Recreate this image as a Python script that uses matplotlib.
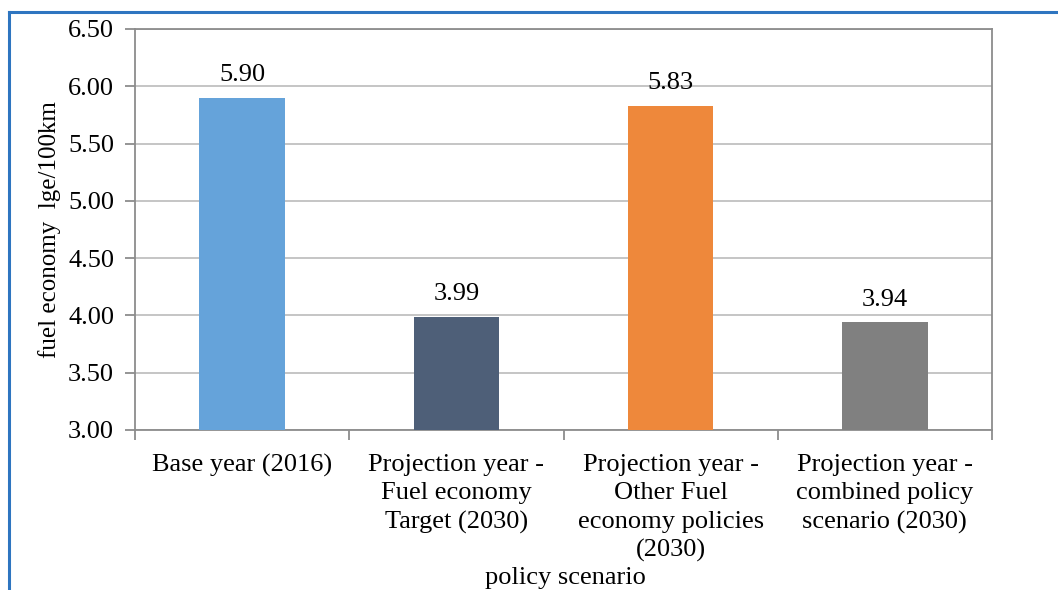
import matplotlib.pyplot as plt
from matplotlib.lines import Line2D

# policy scenarios and the average fuel economy for each
categories = [
    "Base year (2016)",
    "Projection year -\nFuel economy\nTarget (2030)",
    "Projection year -\nOther Fuel\neconomy policies\n(2030)",
    "Projection year -\ncombined policy\nscenario (2030)",
]
fuel_economy = [5.90, 3.99, 5.83, 3.94]
bar_colors = ["#65A3DA", "#4E5F78", "#EE883B", "#808080"]
y_ticks = [3.00, 3.50, 4.00, 4.50, 5.00, 5.50, 6.00, 6.50]

plt.rcParams["font.family"] = ["Liberation Serif", "DejaVu Serif"]

fig = plt.figure(figsize=(10.58, 5.90), dpi=100)
W, H = 1058, 590
ax = fig.add_axes([135 / W, 1 - 430 / H, (992 - 135) / W, (430 - 29) / H])

x = range(len(categories))
ax.bar(x, fuel_economy, width=0.4, color=bar_colors, zorder=3)
ax.set_ylim(3.0, 6.5)
ax.set_xlim(-0.5, len(categories) - 0.5)

for xi, v in zip(x, fuel_economy):
    ax.annotate(f"{v:.2f}", (xi, v), xytext=(0, 12), textcoords="offset points",
                ha="center", va="baseline", fontsize=19, color="black")

ax.set_yticks(y_ticks)
ax.set_yticklabels([f"{t:.2f}" for t in y_ticks], fontsize=19)
ax.yaxis.grid(True, color="#C0C0C0", linewidth=1.3, zorder=0)
ax.set_axisbelow(True)

# category boundaries carry the x ticks, labels sit at the centres
ax.set_xticks([i - 0.5 for i in range(len(categories) + 1)])
ax.set_xticklabels([])
ax.set_xticks(list(x), minor=True)
ax.set_xticklabels(categories, minor=True, fontsize=19, linespacing=1.38)
ax.tick_params(axis="x", which="minor", length=0, pad=17)
ax.tick_params(axis="x", which="major", length=7, color="#8C8C8C", width=1.3)
ax.tick_params(axis="y", length=7, color="#8C8C8C", width=1.3, pad=8)

for side in ["left", "right", "top", "bottom"]:
    ax.spines[side].set_color("#8C8C8C")
    ax.spines[side].set_linewidth(1.3)

ax.set_ylabel("fuel economy  lge/100km", fontsize=18, labelpad=5)
fig.text(565 / W, 1 - 578 / H, "policy scenario", ha="center",
         va="center", fontsize=19)

# outer chart frame
fig.add_artist(Line2D([9 / W, 1], [1 - 11.5 / H, 1 - 11.5 / H],
                      transform=fig.transFigure, color="#2E75C0",
                      linewidth=2.2))
fig.add_artist(Line2D([9 / W, 9 / W], [0, 1 - 11.5 / H],
                      transform=fig.transFigure, color="#2E75C0",
                      linewidth=2.2))

fig.savefig("out.png", dpi=100)
